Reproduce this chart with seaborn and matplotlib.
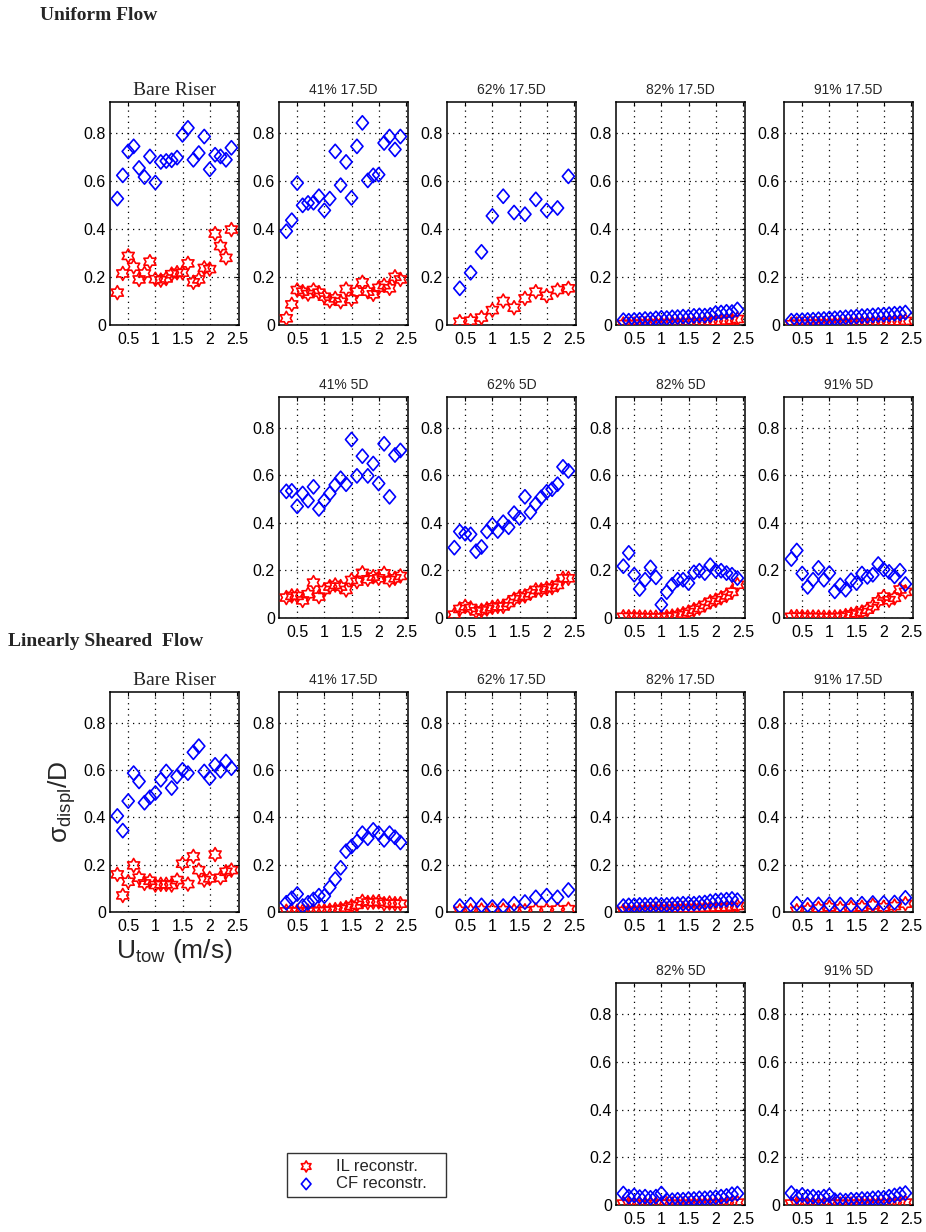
import numpy as np
import pandas as pd
import matplotlib
matplotlib.use("Agg")
import matplotlib.pyplot as plt
from matplotlib.path import Path
import seaborn as sns

# ---------------- data ----------------
U22 = [0.3, 0.4, 0.5, 0.6, 0.7, 0.8, 0.9, 1.0, 1.1, 1.2, 1.3,
       1.4, 1.5, 1.6, 1.7, 1.8, 1.9, 2.0, 2.1, 2.2, 2.3, 2.4]
U11 = [0.4, 0.6, 0.8, 1.0, 1.2, 1.4, 1.6, 1.8, 2.0, 2.2, 2.4]

x_ticks = [0.5, 1, 1.5, 2, 2.5]
x_ticklabels = ["0.5", "1", "1.5", "2", "2.5"]
y_ticks = [0, 0.2, 0.4, 0.6, 0.8]
y_ticklabels = ["0", "0.2", "0.4", "0.6", "0.8"]

# Uniform flow
uni_bare_IL = [0.135, 0.215, 0.288, 0.243, 0.19, 0.215, 0.264, 0.191, 0.187, 0.194, 0.212,
               0.218, 0.218, 0.257, 0.178, 0.19, 0.238, 0.233, 0.381, 0.329, 0.28, 0.398]
uni_bare_CF = [0.527, 0.624, 0.724, 0.745, 0.655, 0.617, 0.703, 0.594, 0.68, 0.684, 0.687,
               0.698, 0.793, 0.822, 0.689, 0.717, 0.786, 0.649, 0.71, 0.703, 0.689, 0.739]

uni_41_175_IL = [0.028, 0.086, 0.146, 0.139, 0.129, 0.146, 0.135, 0.118, 0.10, 0.111, 0.097,
                 0.15, 0.107, 0.139, 0.178, 0.139, 0.128, 0.155, 0.166, 0.153, 0.201, 0.19]
uni_41_175_CF = [0.391, 0.437, 0.592, 0.499, 0.509, 0.51, 0.537, 0.478, 0.527, 0.724, 0.583,
                 0.68, 0.53, 0.745, 0.843, 0.603, 0.624, 0.627, 0.759, 0.786, 0.732, 0.786]

uni_62_175_IL = [0.014, 0.018, 0.031, 0.062, 0.10, 0.072, 0.111, 0.139, 0.122, 0.146, 0.153]
uni_62_175_CF = [0.153, 0.218, 0.305, 0.455, 0.537, 0.469, 0.462, 0.524, 0.478, 0.488, 0.62]

uni_82_175_IL = [0.004, 0.003, 0.004, 0.005, 0.005, 0.006, 0.006, 0.007, 0.007, 0.008, 0.008,
                 0.009, 0.01, 0.01, 0.011, 0.012, 0.013, 0.015, 0.016, 0.018, 0.02, 0.025]
uni_82_175_CF = [0.02, 0.018, 0.021, 0.022, 0.025, 0.024, 0.028, 0.03, 0.029, 0.032, 0.033,
                 0.035, 0.034, 0.038, 0.04, 0.039, 0.042, 0.05, 0.052, 0.055, 0.054, 0.065]

uni_91_175_IL = [0.003, 0.004, 0.004, 0.005, 0.005, 0.005, 0.006, 0.006, 0.007, 0.007, 0.008,
                 0.008, 0.009, 0.01, 0.01, 0.011, 0.012, 0.012, 0.013, 0.014, 0.015, 0.017]
uni_91_175_CF = [0.018, 0.019, 0.02, 0.021, 0.022, 0.024, 0.025, 0.027, 0.028, 0.03, 0.032,
                 0.033, 0.035, 0.037, 0.038, 0.04, 0.042, 0.043, 0.045, 0.047, 0.048, 0.052]

uni_41_5_IL = [0.086, 0.093, 0.093, 0.074, 0.10, 0.149, 0.09, 0.118, 0.132, 0.139, 0.132,
               0.118, 0.16, 0.153, 0.19, 0.163, 0.174, 0.167, 0.188, 0.16, 0.167, 0.177]
uni_41_5_CF = [0.533, 0.535, 0.47, 0.524, 0.494, 0.552, 0.459, 0.494, 0.524, 0.56, 0.588,
               0.563, 0.751, 0.598, 0.681, 0.598, 0.65, 0.566, 0.733, 0.51, 0.686, 0.705]

uni_62_5_IL = [0.014, 0.038, 0.049, 0.042, 0.028, 0.032, 0.038, 0.045, 0.049, 0.049, 0.063,
               0.079, 0.088, 0.093, 0.104, 0.118, 0.118, 0.125, 0.128, 0.139, 0.167, 0.167]
uni_62_5_CF = [0.296, 0.364, 0.355, 0.352, 0.281, 0.299, 0.364, 0.392, 0.366, 0.403, 0.382,
               0.441, 0.421, 0.51, 0.445, 0.48, 0.508, 0.531, 0.542, 0.563, 0.636, 0.619]

uni_82_5_IL = [0.005, 0.005, 0.005, 0.004, 0.003, 0.003, 0.003, 0.003, 0.005, 0.008, 0.012,
               0.018, 0.025, 0.035, 0.042, 0.055, 0.068, 0.075, 0.085, 0.095, 0.11, 0.14]
uni_82_5_CF = [0.218, 0.274, 0.182, 0.122, 0.161, 0.213, 0.171, 0.056, 0.109, 0.14, 0.161,
               0.161, 0.147, 0.192, 0.199, 0.189, 0.222, 0.199, 0.199, 0.189, 0.182, 0.168]

uni_91_5_IL = [0.005, 0.006, 0.005, 0.004, 0.004, 0.004, 0.003, 0.003, 0.004, 0.005, 0.01,
               0.015, 0.02, 0.025, 0.035, 0.05, 0.07, 0.09, 0.075, 0.085, 0.12, 0.11]
uni_91_5_CF = [0.248, 0.284, 0.187, 0.131, 0.161, 0.211, 0.161, 0.189, 0.112, 0.138, 0.119,
               0.159, 0.147, 0.187, 0.173, 0.182, 0.227, 0.204, 0.194, 0.175, 0.199, 0.143]

# Linearly sheared flow
sh_bare_IL = [0.159, 0.07, 0.128, 0.197, 0.145, 0.121, 0.132, 0.114, 0.117, 0.117, 0.114,
              0.135, 0.204, 0.118, 0.235, 0.177, 0.135, 0.142, 0.243, 0.145, 0.17, 0.177]
sh_bare_CF = [0.406, 0.344, 0.469, 0.587, 0.552, 0.462, 0.485, 0.503, 0.559, 0.594, 0.524,
              0.573, 0.601, 0.587, 0.675, 0.701, 0.594, 0.566, 0.622, 0.597, 0.636, 0.608]

sh_41_175_IL = [0.003, 0.003, 0.003, 0.003, 0.003, 0.004, 0.004, 0.005, 0.007, 0.01, 0.013,
                0.018, 0.025, 0.03, 0.045, 0.04, 0.042, 0.043, 0.035, 0.038, 0.035, 0.035]
sh_41_175_CF = [0.039, 0.058, 0.076, 0.025, 0.039, 0.053, 0.069, 0.067, 0.104, 0.139, 0.187,
                0.257, 0.277, 0.298, 0.333, 0.312, 0.347, 0.333, 0.305, 0.333, 0.316, 0.294]

sh_62_175_IL = [0.005, 0.005, 0.008, 0.008, 0.008, 0.005, 0.005, 0.008, 0.008, 0.01, 0.012]
sh_62_175_CF = [0.025, 0.031, 0.028, 0.021, 0.025, 0.035, 0.042, 0.062, 0.069, 0.062, 0.093]

sh_82_175_IL = [0.005, 0.005, 0.006, 0.008, 0.01, 0.01, 0.012, 0.012, 0.012, 0.013, 0.014,
                0.015, 0.015, 0.016, 0.016, 0.017, 0.018, 0.018, 0.02, 0.02, 0.022, 0.025]
sh_82_175_CF = [0.025, 0.028, 0.028, 0.03, 0.03, 0.03, 0.032, 0.03, 0.03, 0.032, 0.033,
                0.035, 0.035, 0.035, 0.038, 0.04, 0.045, 0.048, 0.05, 0.052, 0.055, 0.05]

sh_91_175_IL = [0.005, 0.01, 0.015, 0.02, 0.015, 0.018, 0.02, 0.028, 0.02, 0.025, 0.035]
sh_91_175_CF = [0.035, 0.03, 0.032, 0.033, 0.032, 0.03, 0.035, 0.038, 0.038, 0.04, 0.06]

sh_82_5_IL = [0.006, 0.005, 0.005, 0.005, 0.005, 0.005, 0.005, 0.006, 0.005, 0.004, 0.004,
              0.004, 0.004, 0.005, 0.005, 0.005, 0.005, 0.006, 0.006, 0.007, 0.008, 0.01]
sh_82_5_CF = [0.048, 0.035, 0.04, 0.033, 0.035, 0.03, 0.035, 0.048, 0.02, 0.02, 0.022,
              0.022, 0.025, 0.025, 0.028, 0.028, 0.03, 0.032, 0.035, 0.038, 0.045, 0.048]

sh_91_5_IL = [0.006, 0.005, 0.006, 0.005, 0.005, 0.005, 0.005, 0.006, 0.005, 0.004, 0.004,
              0.004, 0.005, 0.005, 0.005, 0.005, 0.006, 0.006, 0.006, 0.007, 0.008, 0.01]
sh_91_5_CF = [0.05, 0.035, 0.042, 0.035, 0.035, 0.03, 0.035, 0.04, 0.02, 0.02, 0.018,
              0.022, 0.022, 0.025, 0.025, 0.028, 0.03, 0.03, 0.035, 0.04, 0.045, 0.05]

titles_row = ["Bare Riser", "41% 17.5D", "62% 17.5D", "82% 17.5D", "91% 17.5D"]
titles_5D = ["41% 5D", "62% 5D", "82% 5D", "91% 5D"]

# (row, col, title, U, IL, CF)
panels = [
    (0, 0, titles_row[0], U22, uni_bare_IL, uni_bare_CF),
    (0, 1, titles_row[1], U22, uni_41_175_IL, uni_41_175_CF),
    (0, 2, titles_row[2], U11, uni_62_175_IL, uni_62_175_CF),
    (0, 3, titles_row[3], U22, uni_82_175_IL, uni_82_175_CF),
    (0, 4, titles_row[4], U22, uni_91_175_IL, uni_91_175_CF),
    (1, 1, titles_5D[0], U22, uni_41_5_IL, uni_41_5_CF),
    (1, 2, titles_5D[1], U22, uni_62_5_IL, uni_62_5_CF),
    (1, 3, titles_5D[2], U22, uni_82_5_IL, uni_82_5_CF),
    (1, 4, titles_5D[3], U22, uni_91_5_IL, uni_91_5_CF),
    (2, 0, titles_row[0], U22, sh_bare_IL, sh_bare_CF),
    (2, 1, titles_row[1], U22, sh_41_175_IL, sh_41_175_CF),
    (2, 2, titles_row[2], U11, sh_62_175_IL, sh_62_175_CF),
    (2, 3, titles_row[3], U22, sh_82_175_IL, sh_82_175_CF),
    (2, 4, titles_row[4], U11, sh_91_175_IL, sh_91_175_CF),
    (3, 3, titles_5D[2], U22, sh_82_5_IL, sh_82_5_CF),
    (3, 4, titles_5D[3], U22, sh_91_5_IL, sh_91_5_CF),
]

# ---------------- style ----------------
sns.set_style("white")
plt.rcParams['font.family'] = ['Liberation Sans', 'DejaVu Sans']
plt.rcParams['mathtext.fontset'] = 'custom'
plt.rcParams['mathtext.rm'] = 'Liberation Sans'
plt.rcParams['mathtext.it'] = 'Liberation Sans:italic'
plt.rcParams['mathtext.default'] = 'rm'

W, H = 926, 1232
fig = plt.figure(figsize=(W / 100, H / 100), dpi=100)
fig.patch.set_facecolor("white")

col_left = [110, 279, 447, 616, 784]
ax_w = 129
row_tb = [(102, 325), (397, 618), (692, 912), (983, 1205)]

ang = np.deg2rad(90 + np.arange(12) * 30)
rad = np.where(np.arange(12) % 2 == 0, 1.0, 1 / np.sqrt(3))
hv = np.column_stack([rad * np.cos(ang), rad * np.sin(ang)])
hexagram = Path(np.vstack([hv, hv[0]]), closed=True)
diamond = Path([(0, 1), (0.85, 0), (0, -1), (-0.85, 0), (0, 1)], closed=True)

RED = "#ff0000"
BLUE = "#0000ff"

first_handles = None
for (r, c, title, U, IL, CF) in panels:
    top, bot = row_tb[r]
    ax = fig.add_axes([col_left[c] / W, 1 - bot / H, ax_w / W, (bot - top) / H])
    df = pd.DataFrame({"U": U, "IL": IL, "CF": CF})
    sns.scatterplot(data=df, x="U", y="IL", ax=ax, marker=hexagram, s=100,
                    color=RED, facecolor="none", edgecolor=RED, linewidth=1.2,
                    legend=False, zorder=3)
    sns.scatterplot(data=df, x="U", y="CF", ax=ax, marker=diamond, s=105,
                    color=BLUE, facecolor="none", edgecolor=BLUE, linewidth=1.2,
                    legend=False, zorder=3)
    ax.set_xlim(0.165, 2.54)
    ax.set_ylim(0, 0.93)
    ax.set_xticks(x_ticks)
    ax.set_xticklabels(x_ticklabels)
    ax.set_yticks(y_ticks)
    ax.set_yticklabels(y_ticklabels)
    ax.set_xlabel("")
    ax.set_ylabel("")
    ax.grid(True, color="black", linestyle=(0, (1, 3.5)), linewidth=0.9)
    ax.set_axisbelow(True)
    ax.tick_params(direction="in", length=3, width=0.8, top=True, right=True,
                   labelsize=11.5, pad=3, colors="black")
    ax.tick_params(axis="x", pad=5)
    for sp in ax.spines.values():
        sp.set_visible(True)
        sp.set_color("black")
        sp.set_linewidth(1.1)
    if title == "Bare Riser":
        ax.set_title(title, fontsize=14, family=["Liberation Serif"], pad=5)
    else:
        ax.set_title(title, fontsize=10, pad=6)
    if r == 2 and c == 0:
        ax.set_ylabel(r"σ$_{\rm displ}$/D", fontsize=19, labelpad=4)
        ax.set_xlabel(r"U$_{\rm tow}$ (m/s)", fontsize=19, labelpad=2)
    if first_handles is None:
        first_handles = ax.collections[:2]

fig.text(40 / W, 1 - 16 / H, "Uniform Flow", fontsize=14, fontweight="bold",
         family=["Liberation Serif"], va="center", ha="left")
fig.text(8 / W, 1 - 641 / H, "Linearly Sheared  Flow", fontsize=14, fontweight="bold",
         family=["Liberation Serif"], va="center", ha="left")

leg = fig.legend(first_handles, ["IL reconstr.", "CF reconstr."],
                 loc="upper left", bbox_to_anchor=(287 / W, 1 - 1199 / H, 159 / W, 46 / H),
                 mode="expand", fontsize=12, frameon=True, fancybox=False, edgecolor="black",
                 handletextpad=1.0, borderpad=0.35, labelspacing=0.15,
                 handlelength=1.6, borderaxespad=0, markerscale=0.8)
leg.get_frame().set_linewidth(1.0)

fig.savefig("out.png", dpi=100, facecolor="white")
